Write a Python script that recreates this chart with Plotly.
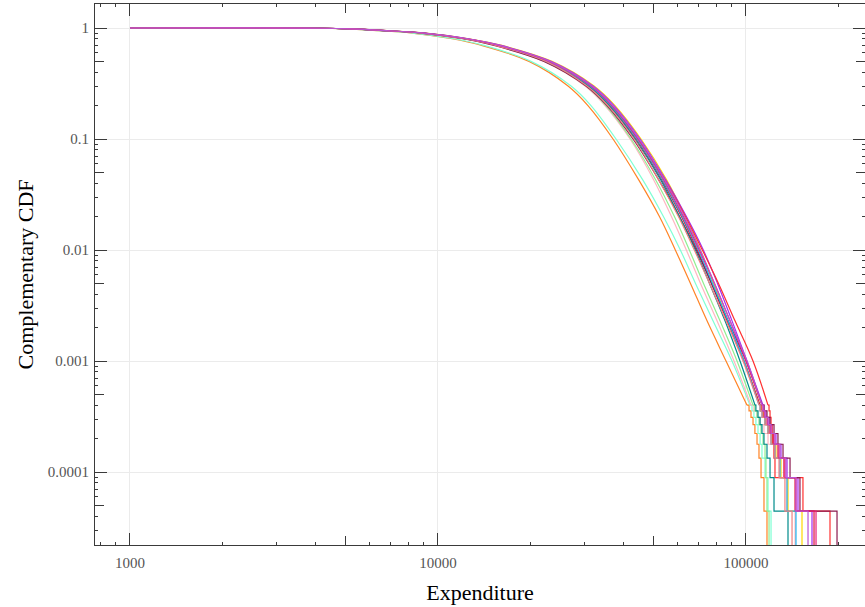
import plotly.graph_objects as go

# CCDF levels at which each series' expenditure quantile is recorded
levels = [1.0, 0.995, 0.98, 0.95, 0.9, 0.8, 0.7, 0.5, 0.3, 0.2, 0.1,
          0.043, 0.02, 0.01, 0.005, 0.0023, 0.001, 0.0004]

# expenditure at each CCDF level, per series
body = {
    "orange":       [1000, 4110, 4990, 6150, 8240, 11110, 13790, 19750, 26440, 30680, 37010,
                     44800, 52350, 58960, 66040, 74730, 86130, 100770],
    "aquamarine":   [1000, 4140, 5030, 6200, 8300, 11270, 14000, 20040, 27040, 31380, 37850,
                     46170, 53940, 61210, 68560, 78150, 90080, 103050],
    "lightpink":    [1000, 4200, 5180, 6480, 8810, 12150, 15200, 22090, 30020, 34840, 42030,
                     50120, 57270, 64020, 71170, 80530, 91440, 103820],
    "lightgreen":   [1000, 4200, 5180, 6480, 8875, 12150, 15320, 22260, 30240, 35110, 42340,
                     50880, 58560, 65470, 72790, 82350, 93520, 105380],
    "gold":         [1000, 4230, 5260, 6630, 9150, 12610, 16020, 23450, 32110, 37550, 45620,
                     55240, 63590, 71080, 78440, 87430, 98530, 111050],
    "blueviolet":   [1000, 4230, 5260, 6580, 9080, 12520, 15900, 23280, 31870, 37270, 45290,
                     54830, 64060, 72690, 80820, 90090, 100770, 113570],
    "red":          [1000, 4200, 5220, 6530, 8940, 12330, 15550, 22760, 31160, 36440, 44610,
                     54420, 63590, 72150, 81420, 92120, 105390, 117890],
    "crimson":      [1000, 4200, 5180, 6480, 8875, 12240, 15430, 22590, 30930, 36170, 43950,
                     53210, 61710, 69500, 77270, 86780, 98530, 111050],
    "maroon":       [1000, 4200, 5140, 6430, 8740, 12060, 15090, 22090, 30240, 35370, 42980,
                     52030, 60800, 68990, 77270, 87430, 100020, 112730],
    "teal":         [1000, 4230, 5220, 6530, 8940, 12240, 15430, 22420, 30700, 35900, 43620,
                     52820, 60800, 68470, 76130, 85500, 95630, 106970],
    "deepskyblue":  [1000, 4200, 5180, 6480, 8875, 12330, 15550, 22760, 31160, 36440, 44280,
                     53610, 62170, 70020, 77850, 87430, 98530, 110220],
    "lightcoral":   [1000, 4200, 5180, 6480, 8810, 12150, 15320, 22420, 30470, 35630, 43300,
                     52030, 60340, 67960, 76130, 86140, 97800, 110220],
    "deeppink":     [1000, 4230, 5220, 6580, 9010, 12420, 15660, 22930, 31400, 36720, 44610,
                     54010, 62640, 70550, 79020, 88750, 100020, 112730],
    "mediumorchid": [1000, 4230, 5220, 6580, 9010, 12520, 15780, 23100, 31630, 36990, 44950,
                     54420, 63110, 71080, 79020, 88750, 100770, 112730],
}

# the nine largest observed expenditures of each series (one CCDF step each)
tail = {
    "orange":       [102300, 103800, 105400, 106900, 108600, 110200, 111900, 114400, 117000],
    "aquamarine":   [104600, 106100, 107700, 109400, 111100, 112700, 115300, 117900, 120600],
    "lightpink":    [106100, 108600, 111100, 114400, 117900, 123300, 128900, 135900, 144300],
    "lightgreen":   [106900, 108600, 110200, 111900, 113600, 115300, 116100, 117000, 118800],
    "gold":         [111900, 113600, 115300, 117900, 121500, 125100, 129900, 136900, 152000],
    "blueviolet":   [114400, 116100, 118800, 121500, 125100, 129900, 135900, 147500, 163800],
    "red":          [118800, 119700, 120600, 121500, 122400, 123300, 124200, 153100, 187400],
    "crimson":      [111900, 113600, 116100, 118800, 122400, 127000, 132800, 144300, 166300],
    "maroon":       [114400, 117000, 119700, 123300, 127000, 131900, 139000, 149700, 197500],
    "teal":         [107700, 109400, 111100, 112700, 114400, 117000, 119700, 123300, 136900],
    "deepskyblue":  [111100, 112700, 115300, 117900, 120600, 124200, 128900, 135900, 145300],
    "lightcoral":   [111100, 112700, 115300, 117900, 120600, 124200, 128000, 133800, 141100],
    "deeppink":     [113500, 115000, 117500, 120000, 123300, 128000, 133800, 145300, 168800],
    "mediumorchid": [113600, 115300, 117900, 120600, 124200, 128900, 134800, 145300, 159000],
}

colors = {
    "orange": "#ff8425", "aquamarine": "#7fffd4", "lightpink": "#ffb6c1",
    "lightgreen": "#90ee90", "gold": "#ffd700", "blueviolet": "#a32cf0",
    "red": "#ff3030", "crimson": "#dc143c", "maroon": "#8b1a4f",
    "teal": "#008b8b", "deepskyblue": "#1ab2f0", "lightcoral": "#f08080",
    "deeppink": "#e8207a", "mediumorchid": "#ba55d3",
}

x_tick_vals = [1000, 10000, 100000]
x_tick_text = ["1000", "10000", "100000"]
y_tick_vals = [1, 0.1, 0.01, 0.001, 0.0001]
y_tick_text = ["1", "0.1", "0.01", "0.001", "0.0001"]

X_RANGE = [2.8864, 5.3864]
Y_RANGE = [-4.6577, 0.2162]
FLOOR = 1e-7  # stands in for a CCDF of zero past the largest sample

fig = go.Figure()

for name, xs in body.items():
    col = colors[name]
    # smooth body of the empirical CCDF
    fig.add_trace(go.Scatter(x=xs, y=levels, mode="lines", name=name,
                             line=dict(color=col, width=1.2, shape="spline", smoothing=1.0),
                             showlegend=False, hoverinfo="skip"))
    # stair-step tail: one step down per remaining sample
    top = levels[-1]
    n = len(tail[name])
    step = top / n
    tx, ty = [xs[-1]], [top]
    for i, v in enumerate(tail[name]):
        after = top - (i + 1) * step
        tx += [v, v]
        ty += [top - i * step, after if after > step * 0.5 else FLOOR]
    fig.add_trace(go.Scatter(x=tx, y=ty, mode="lines", name=name,
                             line=dict(color=col, width=1.2),
                             showlegend=False, hoverinfo="skip"))

# tick positions by decade
x_mid = [5 * 10 ** k for k in range(2, 6)]
x_minor = [m * 10 ** k for k in range(2, 6) for m in (2, 3, 4, 6, 7, 8, 9)]
y_mid = [5 * 10 ** k for k in range(-6, 1)]
y_minor = [m * 10 ** k for k in range(-6, 1) for m in (2, 3, 4, 6, 7, 8, 9)]

serif = "Liberation Serif, Times New Roman, serif"
axis_col = "#3a3a3a"
tick_font = dict(family=serif, size=15, color="#555555")
title_font = dict(family=serif, size=22, color="black")

common = dict(type="log", showline=True, linecolor=axis_col, linewidth=1,
              mirror="ticks", ticks="inside", tickcolor=axis_col, zeroline=False)

fig.update_layout(
    width=865, height=607,
    margin=dict(l=95, r=0, t=4, b=62),
    plot_bgcolor="white", paper_bgcolor="white",
    xaxis=dict(**common, range=X_RANGE, tickvals=x_tick_vals, ticktext=x_tick_text,
               ticklen=12, tickwidth=1.2, showgrid=True, gridcolor="#ebebeb",
               tickfont=tick_font, ticklabelstandoff=4,
               minor=dict(tickvals=x_minor, ticklen=3, ticks="inside",
                          tickcolor=axis_col, showgrid=False),
               title=dict(text="Expenditure", font=title_font, standoff=14)),
    yaxis=dict(**common, range=Y_RANGE, tickvals=y_tick_vals, ticktext=y_tick_text,
               ticklen=12, tickwidth=1.2, showgrid=True, gridcolor="#ebebeb",
               tickfont=tick_font, ticklabelstandoff=2,
               minor=dict(tickvals=y_minor, ticklen=3, ticks="inside",
                          tickcolor=axis_col, showgrid=False),
               title=dict(text="Complementary CDF", font=title_font, standoff=8)),
    # medium-length ticks at the 5s of each decade
    xaxis2=dict(**common, overlaying="x", range=X_RANGE, tickvals=x_mid, ticklen=9,
                showticklabels=False, showgrid=False),
    yaxis2=dict(**common, overlaying="y", range=Y_RANGE, tickvals=y_mid, ticklen=9,
                showticklabels=False, showgrid=False),
)

# an empty trace so the medium-tick axes are drawn
fig.add_trace(go.Scatter(x=[], y=[], xaxis="x2", yaxis="y2", showlegend=False))

fig.write_html("out.html")
